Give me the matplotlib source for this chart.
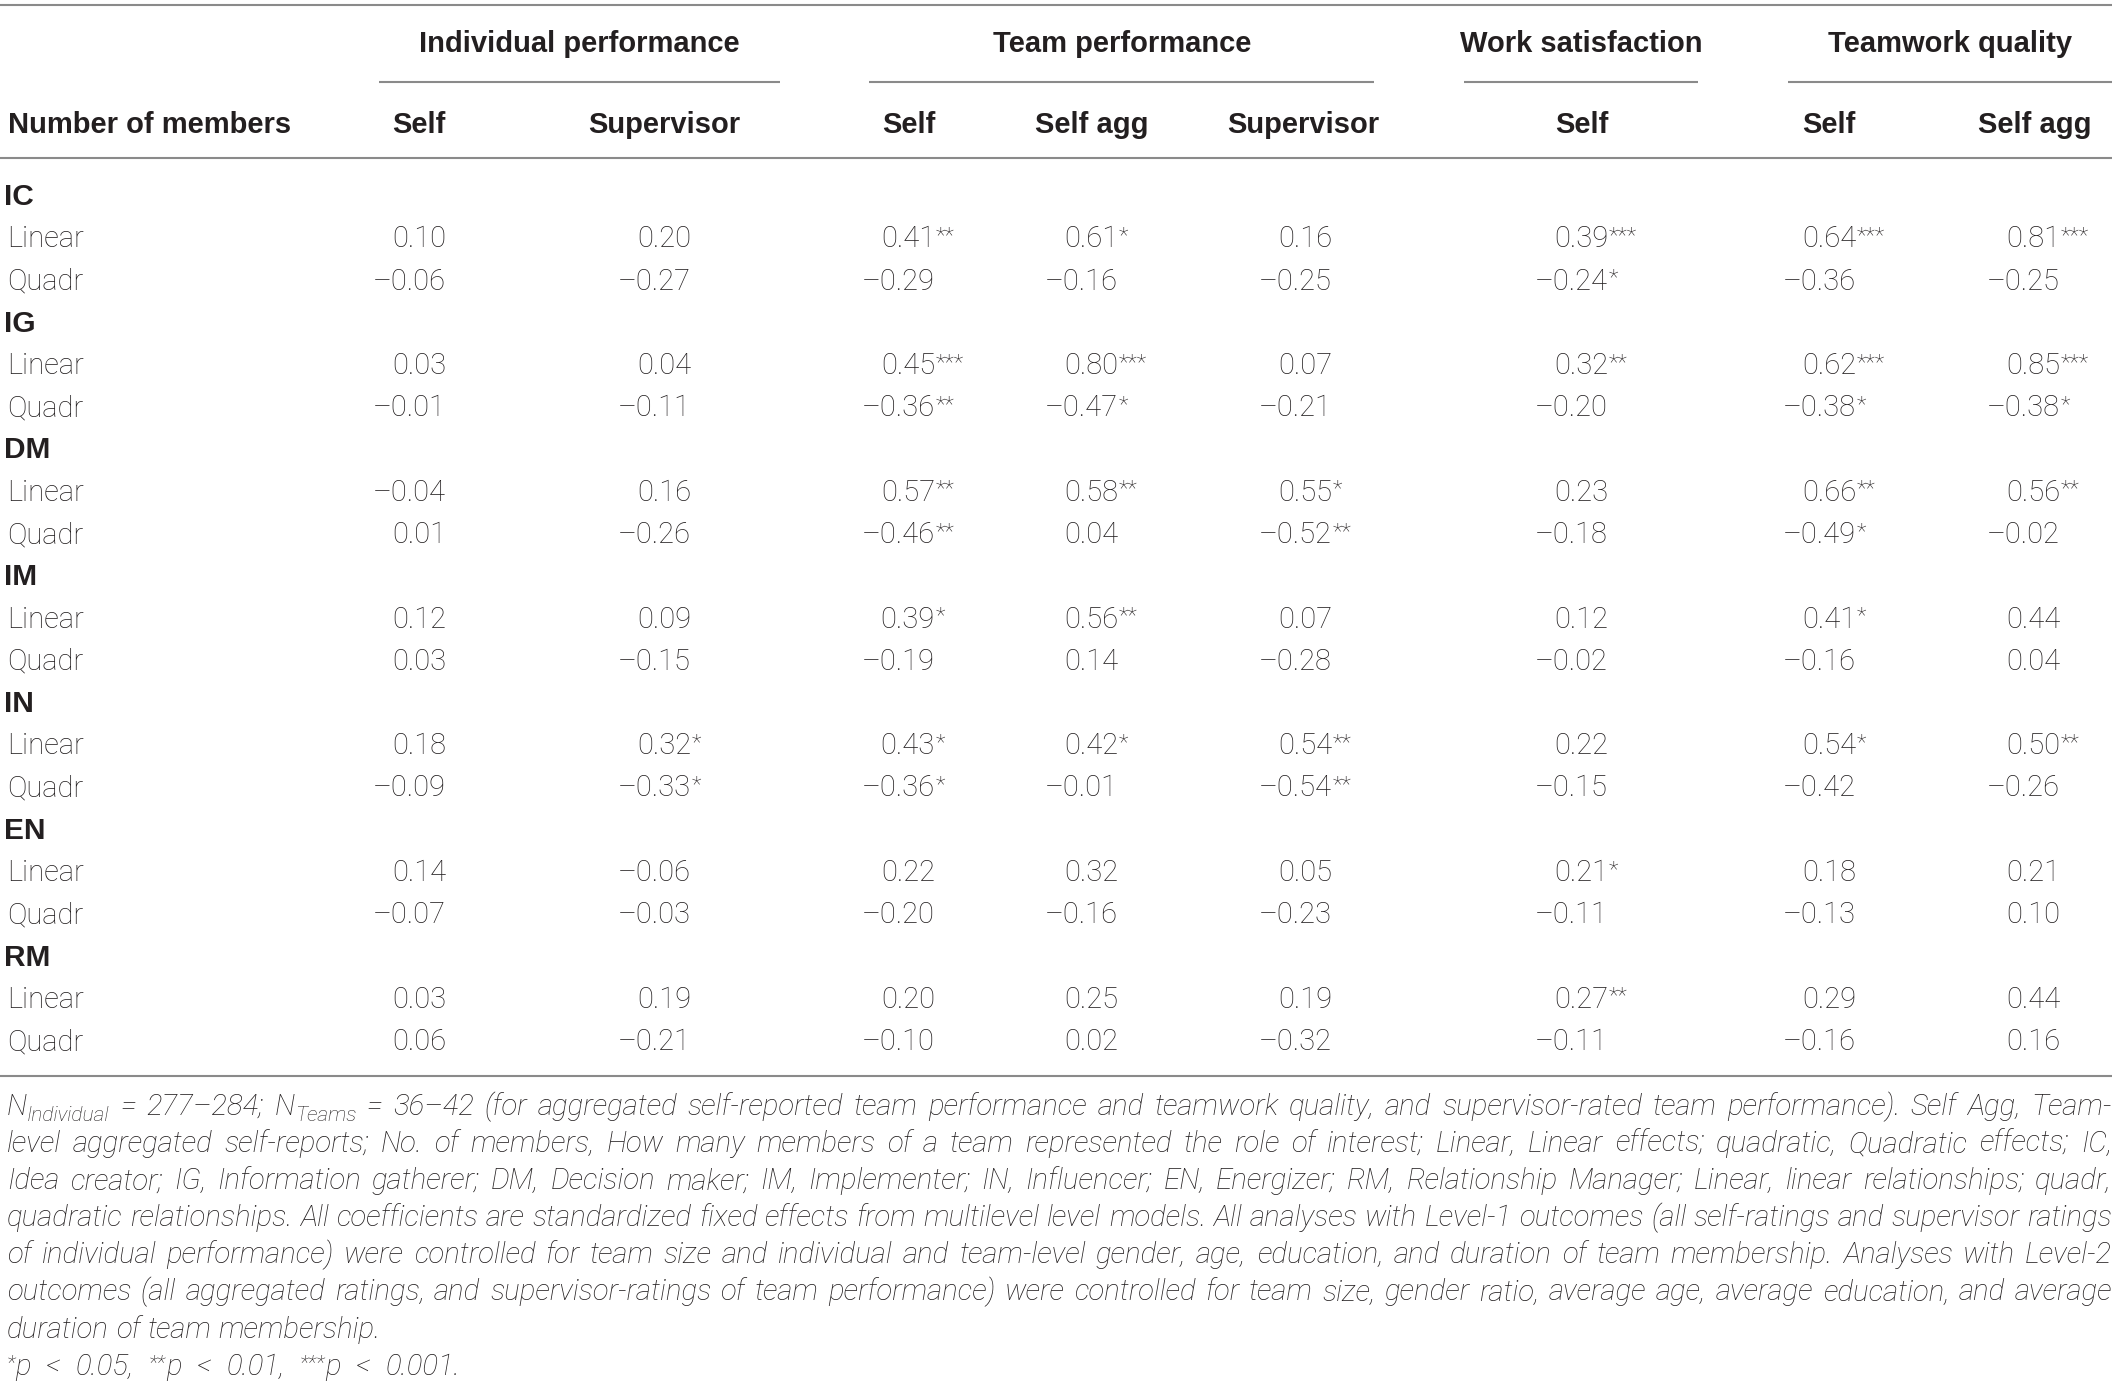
import re
import matplotlib
matplotlib.use("Agg")
import matplotlib.pyplot as plt

# ---- table data -------------------------------------------------------------
groups = ["Individual performance", "Team performance", "Work satisfaction", "Teamwork quality"]
columns = ["Self", "Supervisor", "Self", "Self agg", "Supervisor", "Self", "Self", "Self agg"]
roles = ["IC", "IG", "DM", "IM", "IN", "EN", "RM"]
effects = ["Linear", "Quadr"]

# coefficients per role; *_sig = number of stars
IC_LINEAR = [0.10, 0.20, 0.41, 0.61, 0.16, 0.39, 0.64, 0.81]
IC_LINEAR_SIG = [0, 0, 2, 1, 0, 3, 3, 3]
IC_QUADR = [-0.06, -0.27, -0.29, -0.16, -0.25, -0.24, -0.36, -0.25]
IC_QUADR_SIG = [0, 0, 0, 0, 0, 1, 0, 0]

IG_LINEAR = [0.03, 0.04, 0.45, 0.80, 0.07, 0.32, 0.62, 0.85]
IG_LINEAR_SIG = [0, 0, 3, 3, 0, 2, 3, 3]
IG_QUADR = [-0.01, -0.11, -0.36, -0.47, -0.21, -0.20, -0.38, -0.38]
IG_QUADR_SIG = [0, 0, 2, 1, 0, 0, 1, 1]

DM_LINEAR = [-0.04, 0.16, 0.57, 0.58, 0.55, 0.23, 0.66, 0.56]
DM_LINEAR_SIG = [0, 0, 2, 2, 1, 0, 2, 2]
DM_QUADR = [0.01, -0.26, -0.46, 0.04, -0.52, -0.18, -0.49, -0.02]
DM_QUADR_SIG = [0, 0, 2, 0, 2, 0, 1, 0]

IM_LINEAR = [0.12, 0.09, 0.39, 0.56, 0.07, 0.12, 0.41, 0.44]
IM_LINEAR_SIG = [0, 0, 1, 2, 0, 0, 1, 0]
IM_QUADR = [0.03, -0.15, -0.19, 0.14, -0.28, -0.02, -0.16, 0.04]
IM_QUADR_SIG = [0, 0, 0, 0, 0, 0, 0, 0]

IN_LINEAR = [0.18, 0.32, 0.43, 0.42, 0.54, 0.22, 0.54, 0.50]
IN_LINEAR_SIG = [0, 1, 1, 1, 2, 0, 1, 2]
IN_QUADR = [-0.09, -0.33, -0.36, -0.01, -0.54, -0.15, -0.42, -0.26]
IN_QUADR_SIG = [0, 1, 1, 0, 2, 0, 0, 0]

EN_LINEAR = [0.14, -0.06, 0.22, 0.32, 0.05, 0.21, 0.18, 0.21]
EN_LINEAR_SIG = [0, 0, 0, 0, 0, 1, 0, 0]
EN_QUADR = [-0.07, -0.03, -0.20, -0.16, -0.23, -0.11, -0.13, 0.10]
EN_QUADR_SIG = [0, 0, 0, 0, 0, 0, 0, 0]

RM_LINEAR = [0.03, 0.19, 0.20, 0.25, 0.19, 0.27, 0.29, 0.44]
RM_LINEAR_SIG = [0, 0, 0, 0, 0, 2, 0, 0]
RM_QUADR = [0.06, -0.21, -0.10, 0.02, -0.32, -0.11, -0.16, 0.16]
RM_QUADR_SIG = [0, 0, 0, 0, 0, 0, 0, 0]

rows = {
    "IC": [(IC_LINEAR, IC_LINEAR_SIG), (IC_QUADR, IC_QUADR_SIG)],
    "IG": [(IG_LINEAR, IG_LINEAR_SIG), (IG_QUADR, IG_QUADR_SIG)],
    "DM": [(DM_LINEAR, DM_LINEAR_SIG), (DM_QUADR, DM_QUADR_SIG)],
    "IM": [(IM_LINEAR, IM_LINEAR_SIG), (IM_QUADR, IM_QUADR_SIG)],
    "IN": [(IN_LINEAR, IN_LINEAR_SIG), (IN_QUADR, IN_QUADR_SIG)],
    "EN": [(EN_LINEAR, EN_LINEAR_SIG), (EN_QUADR, EN_QUADR_SIG)],
    "RM": [(RM_LINEAR, RM_LINEAR_SIG), (RM_QUADR, RM_QUADR_SIG)],
}

# footnote lines, _{..} = subscript, ^{..} = superscript
footnote = [
    "N_{Individual} = 277–284; N_{Teams} = 36–42 (for aggregated self-reported team performance and teamwork quality, and supervisor-rated team performance). Self Agg, Team-",
    "level aggregated self-reports; No. of members, How many members of a team represented the role of interest; Linear, Linear effects; quadratic, Quadratic effects; IC,",
    "Idea creator; IG, Information gatherer; DM, Decision maker; IM, Implementer; IN, Influencer; EN, Energizer; RM, Relationship Manager; Linear, linear relationships; quadr,",
    "quadratic relationships. All coefficients are standardized fixed effects from multilevel level models. All analyses with Level-1 outcomes (all self-ratings and supervisor ratings",
    "of individual performance) were controlled for team size and individual and team-level gender, age, education, and duration of team membership. Analyses with Level-2",
    "outcomes (all aggregated ratings, and supervisor-ratings of team performance) were controlled for team size, gender ratio, average age, average education, and average",
    "duration of team membership.",
    "^{*}p < 0.05, ^{**}p < 0.01, ^{***}p < 0.001.",
]

# ---- layout -----------------------------------------------------------------
W, H = 2119, 1386
BODY = dict(family=["Roboto", "DejaVu Sans"], fontweight="light", color="#231f20")
BOLD = dict(family=["Liberation Sans", "DejaVu Sans"], fontweight="bold", color="#231f20")
FS = 21
LINE = dict(color="#8a8a8a", lw=1.5, solid_capstyle="butt")

group_centers = [579, 1122, 1581, 1950]
group_rules = [(379, 780), (869, 1374), (1464, 1698), (1788, 2112)]
col_centers = [419, 664, 909, 1092, 1303, 1582, 1829, 2035]
num_right = [446, 691, 935, 1118, 1332, 1608, 1856, 2060]
row0, row_step = 205, 42.25
left, right = 7, 2112
# right edge each footnote line is spread to (None = natural word spacing)
fn_right = [right, right, right, right, right, right, None, 460]

fig = plt.figure(figsize=(W / 100, H / 100), dpi=100)
ax = fig.add_axes([0, 0, 1, 1])
ax.set_xlim(0, W)
ax.set_ylim(H, 0)
ax.axis("off")
renderer = fig.canvas.get_renderer()

# rules
for y in (5, 158, 1076):
    ax.plot([0, right], [y, y], **LINE)
for x0, x1 in group_rules:
    ax.plot([x0, x1], [82, 82], **LINE)

# headers
for name, cx in zip(groups, group_centers):
    ax.text(cx, 52, name, ha="center", va="baseline", fontsize=FS, **BOLD)
ax.text(8, 133, "Number of members", ha="left", va="baseline", fontsize=FS, **BOLD)
for name, cx in zip(columns, col_centers):
    ax.text(cx, 133, name, ha="center", va="baseline", fontsize=FS, **BOLD)


def fmt(v):
    s = f"{abs(v):.2f}"
    return ("–" + s) if v < 0 else s


# body
i = 0
for role in roles:
    ax.text(4, row0 + i * row_step, role, ha="left", va="baseline", fontsize=FS + 0.5, **BOLD)
    i += 1
    for eff, (vals, sig) in zip(effects, rows[role]):
        y = row0 + i * row_step
        ax.text(7, y, eff, ha="left", va="baseline", fontsize=FS, **BODY)
        for v, s, xr in zip(vals, sig, num_right):
            ax.text(xr, y, fmt(v), ha="right", va="baseline", fontsize=FS, **BODY)
            if s:
                ax.text(xr + 1, y - 5, "*" * s, ha="left", va="baseline", fontsize=16, **BODY)
        i += 1

# footnote, justified word by word
FN = dict(family=["Roboto", "DejaVu Sans"], fontweight="light", style="italic", color="#231f20")
fn_fs, fn_small = 21.2, 15
fn0, fn_step = 1115, 37.1
token = re.compile(r"(_\{[^}]*\}|\^\{[^}]*\})")


def make_word(word, y):
    parts = []
    for piece in token.split(word):
        if not piece:
            continue
        if piece.startswith("_{"):
            t = ax.text(0, y + 6, piece[2:-1], va="baseline", fontsize=fn_small, **FN)
        elif piece.startswith("^{"):
            t = ax.text(0, y - 6, piece[2:-1], va="baseline", fontsize=fn_small, **FN)
        else:
            t = ax.text(0, y, piece, va="baseline", fontsize=fn_fs, **FN)
        parts.append(t)
    widths = [p.get_window_extent(renderer).width for p in parts]
    return parts, widths


space = ax.text(0, 0, "a a", fontsize=fn_fs, **FN)
aa = ax.text(0, 0, "aa", fontsize=fn_fs, **FN)
space_w = space.get_window_extent(renderer).width - aa.get_window_extent(renderer).width
space.remove()
aa.remove()

for k, (line, xr) in enumerate(zip(footnote, fn_right)):
    y = fn0 + k * fn_step
    words = [make_word(w, y) for w in line.split(" ")]
    total = sum(sum(ws) for _, ws in words)
    gap = (xr - left - total) / (len(words) - 1) if xr else space_w
    x = left
    for parts, ws in words:
        for p, w in zip(parts, ws):
            p.set_x(x)
            x += w
        x += gap

fig.savefig("out.png", dpi=100)
